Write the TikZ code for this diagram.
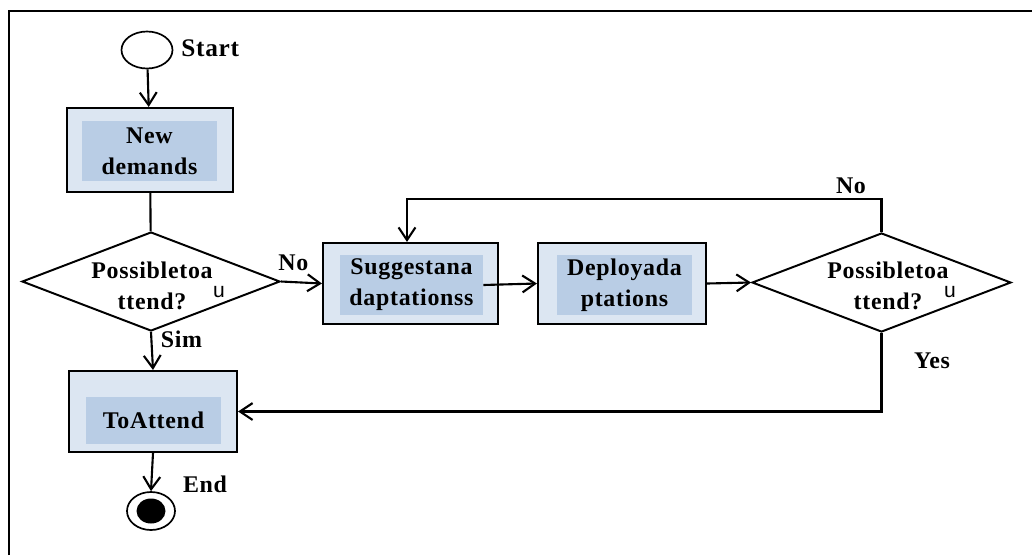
\documentclass[tikz,border=0pt]{standalone}
\usepackage{fontspec}
\setmainfont{Liberation Serif}
\newfontfamily\spacedfont[LetterSpace=3]{Liberation Serif}
\newfontfamily\plainsans{Liberation Sans}
\usepackage{tikz}
\usetikzlibrary{arrows.meta,shapes.geometric,calc}
\definecolor{boxouter}{RGB}{220,230,242}
\definecolor{boxinner}{RGB}{185,205,229}
\tikzstyle{flow}=[-{Straight Barb[length=9pt,width=12pt]},line width=1.5pt]
\tikzstyle{outerbox}=[draw,rectangle,line width=1.5pt,fill=boxouter,inner sep=0pt]
\tikzstyle{innerbox}=[rectangle,fill=boxinner,inner sep=0pt,align=center]
\tikzstyle{decision}=[draw,diamond,line width=1.4pt,inner sep=0pt]
\tikzstyle{txt}=[font=\spacedfont\bfseries\fontsize{17}{22}\selectfont,align=center,inner sep=0pt]
\tikzstyle{mark u}=[font=\plainsans\fontsize{15}{15}\selectfont,inner sep=0pt]

\begin{document}
\begin{tikzpicture}[x=0.025cm,y=-0.025cm]
            \def\px{0.025cm}
            \useasboundingbox (0,0) rectangle (1032,555);
            \draw[line width=1.5pt] (9,555) -- (9,11) -- (1032,11);
            % start / end
            \node[draw,ellipse,line width=1.2pt,minimum width=51*\px,minimum height=37*\px,inner sep=0pt] (start) at (147,50) {};
            \node[txt,anchor=west,font=\spacedfont\bfseries\fontsize{18}{22}\selectfont] (startlbl) at (181,48) {Start};
            \node[draw,ellipse,line width=1.2pt,minimum width=48*\px,minimum height=38*\px,inner sep=0pt] (end) at (151,511) {};
            \node[fill=black,ellipse,minimum width=29*\px,minimum height=25*\px,inner sep=0pt] (endin) at (end.center) {};
            \node[txt] (endlbl) at (205,484) {End};
            % boxes
            \node[outerbox,minimum width=166*\px,minimum height=84*\px] (nd) at (150,150) {};
            \node[innerbox,txt,fill=boxinner,minimum width=135*\px,minimum height=60*\px] (ndin) at (149.5,151) {New\\demands};
            \node[outerbox,minimum width=175*\px,minimum height=81*\px] (sug) at (410.5,283.5) {};
            \node[innerbox,txt,fill=boxinner,minimum width=143*\px,minimum height=60*\px] (sugin) at (411.5,285) {Suggestana\\daptationss};
            \node[outerbox,minimum width=168*\px,minimum height=81*\px] (dep) at (622,283.5) {};
            \node[innerbox,txt,fill=boxinner,minimum width=135*\px,minimum height=60*\px] (depin) at (624.5,285) {Deployada\\ptations};
            \node[outerbox,minimum width=168*\px,minimum height=81*\px] (ta) at (153,411.5) {};
            \node[innerbox,txt,fill=boxinner,minimum width=135*\px,minimum height=47*\px] (tain) at (153.5,420.5) {ToAttend};
            % decisions
            \node[decision,minimum width=258*\px,minimum height=99*\px] (d1) at (151,281.5) {};
            \node[txt] (d1txt) at (152,286) {Possibletoa\\ttend?};
            \node[mark u] (d1u) at (219,292) {u};
            \node[decision,minimum width=259*\px,minimum height=99*\px] (d2) at (881.5,282.5) {};
            \node[txt] (d2txt) at (888,286) {Possibletoa\\ttend?};
            \node[mark u] (d2u) at (950,292) {u};
            % flow
            \draw[flow] (start) -- (nd);
            \draw[line width=1.5pt] (nd) -- (d1);
            \draw[flow] (d1.east) -- (sug.west) node[txt,pos=0.3,above=7pt] {No};
            \draw[flow] (sugin.east) -- (dep.west);
            \draw[flow] (dep.east) -- (d2.west);
            \draw[flow] (d1.south) -- (ta.north) node[txt,pos=0.2,right=6pt] {Sim};
            \draw[flow] (ta.south) -- (end.north);
            \coordinate (loop) at (407,199);
            \draw[flow] (d2.north) |- (loop) -- (loop |- sug.north);
            \node[txt] (nolbl) at (851,186) {No};
            \draw[flow] (d2.south) |- (ta.east);
            \node[txt] (yeslbl) at (932,361) {Yes};
        \end{tikzpicture}
\end{document}
